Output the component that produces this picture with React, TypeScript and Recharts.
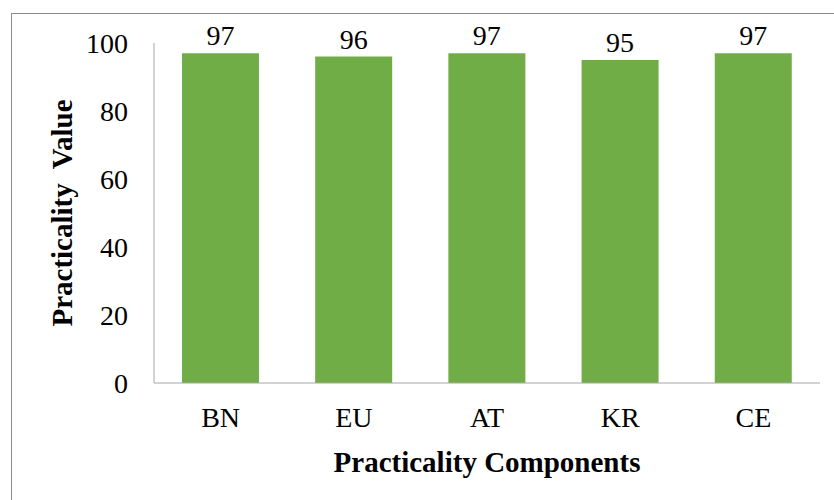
import { BarChart, Bar, XAxis, YAxis, LabelList, Label } from 'recharts';

const components = ['BN', 'EU', 'AT', 'KR', 'CE'];
const practicality = [97, 96, 97, 95, 97];
const yTicks = [0, 20, 40, 60, 80, 100];

const data = components.map((name, i) => ({ name, value: practicality[i] }));

const font = '"Liberation Serif", "Times New Roman", serif';
const axisGray = '#a6a6a6';

export default function App() {
    return (
        <div style={{ position: 'absolute', left: 0, top: 0, width: 834, height: 500, background: '#fff', overflow: 'hidden' }}>
            <div style={{ position: 'absolute', left: 11, top: 13, width: 840, height: 500, borderTop: '1px solid #8c8c8c', borderLeft: '1px solid #8c8c8c' }} />
            <div style={{ position: 'absolute', left: 0, top: 0 }}>
                <BarChart width={834} height={500} data={data} margin={{ top: 43, right: 14, bottom: 0, left: 0 }} barCategoryGap="21%">
                    <XAxis
                        dataKey="name"
                        height={117}
                        stroke={axisGray}
                        tickLine={false}
                        tickMargin={18}
                        tick={{ fill: '#000', fontSize: 28, fontFamily: font }}
                    >
                        <Label
                            content={({ viewBox }: any) => (
                                <text
                                    x={viewBox.x + viewBox.width / 2}
                                    y={viewBox.y + 89}
                                    textAnchor="middle"
                                    fontFamily={font}
                                    fontSize={29}
                                    fontWeight="bold"
                                    fill="#000"
                                >
                                    Practicality Components
                                </text>
                            )}
                        />
                    </XAxis>
                    <YAxis
                        width={154}
                        domain={[0, 100]}
                        ticks={yTicks}
                        stroke={axisGray}
                        tickLine={false}
                        tickMargin={20}
                        tick={{ fill: '#000', fontSize: 28, fontFamily: font }}
                    >
                        <Label
                            content={({ viewBox }: any) => {
                                const cx = viewBox.x + 72;
                                const cy = viewBox.y + viewBox.height / 2;
                                return (
                                    <text
                                        x={cx}
                                        y={cy}
                                        transform={`rotate(-90 ${cx} ${cy})`}
                                        textAnchor="middle"
                                        fontFamily={font}
                                        fontSize={29}
                                        fontWeight="bold"
                                        fill="#000"
                                        style={{ whiteSpace: 'pre' }}
                                    >
                                        {'Practicality  Value'}
                                    </text>
                                );
                            }}
                        />
                    </YAxis>
                    <Bar dataKey="value" fill="#70ad47" isAnimationActive={false}>
                        <LabelList
                            dataKey="value"
                            position="top"
                            offset={8}
                            fill="#000"
                            fontSize={28}
                            fontFamily={font}
                        />
                    </Bar>
                </BarChart>
            </div>
        </div>
    );
}
